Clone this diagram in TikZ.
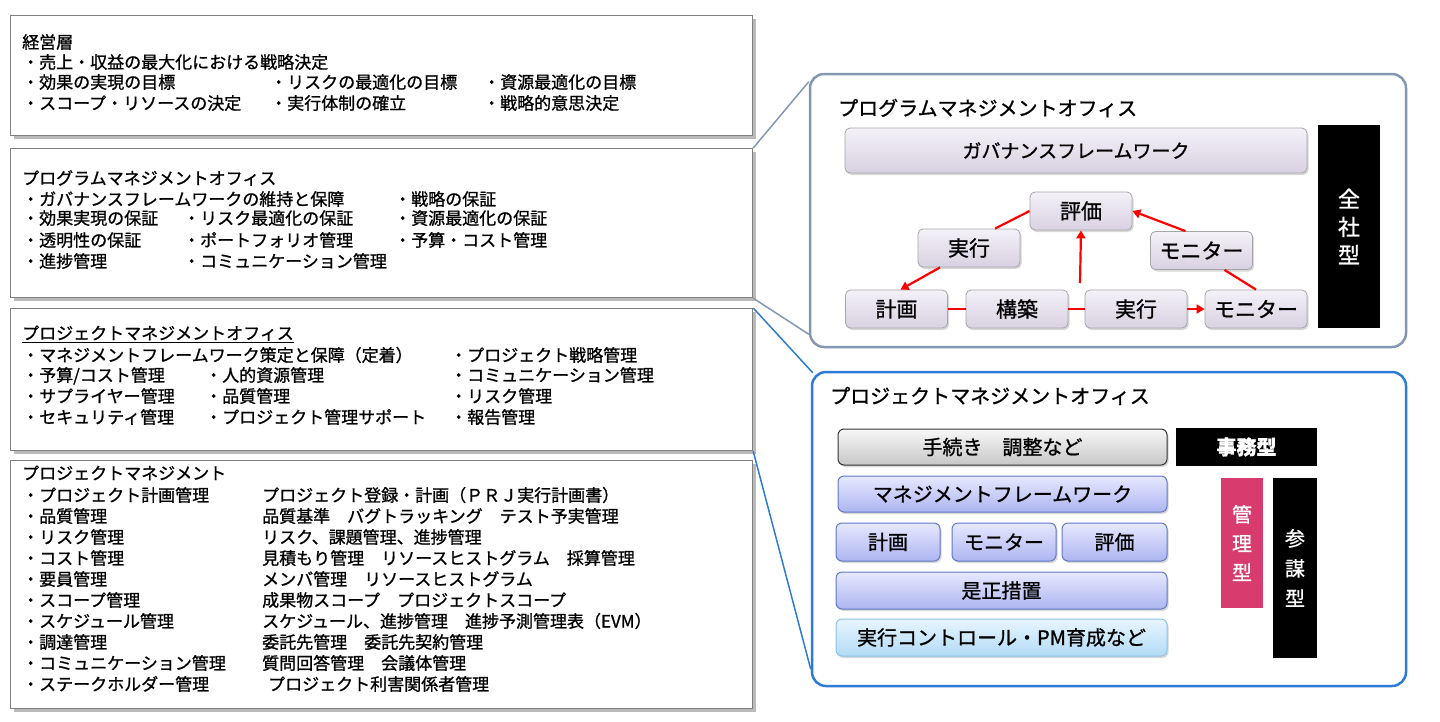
\documentclass[tikz,border=0pt]{standalone}
\usepackage{fontspec}
\setmainfont{Noto Sans CJK JP}[FakeBold=1]
\usepackage{xcolor}
\definecolor{pgmframe}{HTML}{8497B0}
\definecolor{pmoframe}{HTML}{2E7BD6}
\definecolor{cyclered}{HTML}{FF0000}
\definecolor{kanripink}{HTML}{D83C6E}
\definecolor{lavtop}{HTML}{F4F1F7}
\definecolor{lavbot}{HTML}{D8D1E2}
\definecolor{bluetop}{HTML}{E6E9FF}
\definecolor{bluebot}{HTML}{ADB5F0}
\definecolor{blueedge}{HTML}{6277C6}
\definecolor{skytop}{HTML}{E8F5FF}
\definecolor{skybot}{HTML}{B2DBF5}
\definecolor{skyedge}{HTML}{8CC3EA}
\usetikzlibrary{arrows.meta,positioning,shadows}

\newcommand{\lstfont}{\fontsize{17}{20}\selectfont}
\newcommand{\ttlfont}{\fontsize{20}{24}\selectfont}
\newcommand{\cellfont}{\fontsize{20}{24}\selectfont}

\tikzset{
  layerbox/.style={draw=black!50, fill=white, line width=1.2pt, inner sep=0pt, anchor=north west,
    drop shadow={shadow xshift=3pt, shadow yshift=-3pt, fill=black!45, opacity=0.6}},
  rowtext/.style={anchor=west, inner sep=0pt, font=\lstfont, text height=15pt, text depth=2pt},
  panel/.style={rounded corners=14pt, line width=2.5pt, fill=white, inner sep=0pt},
  cyclebox/.style={draw=black!35, line width=0.8pt, rounded corners=5pt, top color=lavtop, bottom color=lavbot,
    minimum height=38pt, minimum width=102pt, font=\fontsize{21}{25}\selectfont,
    drop shadow={shadow xshift=1.5pt, shadow yshift=-2pt, fill=black!30, opacity=0.5}},
  stepbox/.style={rounded corners=6pt, line width=1pt, minimum height=37pt, font=\cellfont,
    drop shadow={shadow xshift=1.5pt, shadow yshift=-2pt, fill=black!30, opacity=0.5}},
  stepgray/.style={stepbox, draw=black!80, top color=black!3, bottom color=black!22},
  stepblue/.style={stepbox, draw=blueedge, top color=bluetop, bottom color=bluebot},
  stepsky/.style={stepbox, draw=skyedge, top color=skytop, bottom color=skybot},
  typebar/.style={fill=black, text=white, inner sep=0pt, align=center},
  cycleline/.style={draw=cyclered, line width=2.2pt},
  cyclearrow/.style={cycleline, -{Triangle[length=8pt,width=9pt]}},
}

\begin{document}
\begin{tikzpicture}[x=1pt,y=-1pt]
  \useasboundingbox (0,0) rectangle (1440,721);

  % Left column: layers
  \node[layerbox, minimum width=742pt, minimum height=120pt] (mgmt) at (10,15) {};
  \node[layerbox, minimum width=742pt, minimum height=149pt] (pgmlist) at (10,148) {};
  \node[layerbox, minimum width=742pt, minimum height=142pt] (pmolist) at (10,308) {};
  \node[layerbox, minimum width=742pt, minimum height=248pt] (pmlist) at (10,460) {};

  % Management layer
  \node[rowtext] (mgmtttl) at (22,42) {経営層};
  \foreach \y/\t [count=\i] in {62/・売上・収益の最大化における戦略決定, 82/・効果の実現の目標, 103/・スコープ・リソースの決定}
    \node[rowtext] (mgmta\i) at (22,\y) {\t};
  \foreach \y/\t [count=\i] in {82/・リスクの最適化の目標, 103/・実行体制の確立}
    \node[rowtext] (mgmtb\i) at (270,\y) {\t};
  \foreach \y/\t [count=\i] in {82/・資源最適化の目標, 103/・戦略的意思決定}
    \node[rowtext] (mgmtc\i) at (483,\y) {\t};

  % Program management office
  \node[rowtext] (pgmttl) at (22,178) {プログラムマネジメントオフィス};
  \foreach \y/\t [count=\i] in {199/・ガバナンスフレームワークの維持と保障, 218/・効果実現の保証, 240/・透明性の保証, 261/・進捗管理}
    \node[rowtext] (pgma\i) at (22,\y) {\t};
  \foreach \y/\t [count=\i] in {218/・リスク最適化の保証, 240/・ポートフォリオ管理, 261/・コミュニケーション管理}
    \node[rowtext] (pgmb\i) at (183,\y) {\t};
  \foreach \y/\t [count=\i] in {199/・戦略の保証, 218/・資源最適化の保証, 240/・予算・コスト管理}
    \node[rowtext] (pgmc\i) at (394,\y) {\t};

  % Project management office
  \node[rowtext] (pmottl) at (22,333) {\underline{プロジェクトマネジメントオフィス}};
  \foreach \y/\t [count=\i] in {355/・マネジメントフレームワーク策定と保障（定着）, 375/{・予算/コスト管理}, 396/・サプライヤー管理, 417/・セキュリティ管理}
    \node[rowtext] (pmoa\i) at (22,\y) {\t};
  \foreach \y/\t [count=\i] in {375/・人的資源管理, 396/・品質管理, 417/・プロジェクト管理サポート}
    \node[rowtext] (pmob\i) at (205,\y) {\t};
  \foreach \y/\t [count=\i] in {355/・プロジェクト戦略管理, 375/・コミュニケーション管理, 396/・リスク管理, 417/・報告管理}
    \node[rowtext] (pmoc\i) at (450,\y) {\t};

  % Project management
  \node[rowtext] (pmttl) at (22,473) {プロジェクトマネジメント};
  \foreach \y/\a/\b [count=\i] in {
      495/・プロジェクト計画管理/プロジェクト登録・計画（ＰＲＪ実行計画書）,
      516/・品質管理/品質基準　バグトラッキング　テスト予実管理,
      537/・リスク管理/リスク、課題管理、進捗管理,
      558/・コスト管理/見積もり管理　リソースヒストグラム　採算管理,
      579/・要員管理/メンバ管理　リソースヒストグラム,
      600/・スコープ管理/成果物スコープ　プロジェクトスコープ,
      621/・スケジュール管理/スケジュール、進捗管理　進捗予測管理表（EVM）,
      642/・調達管理/委託先管理　委託先契約管理,
      663/・コミュニケーション管理/質問回答管理　会議体管理,
      684/・ステークホルダー管理/{\hspace*{6pt}プロジェクト利害関係者管理}} {
    \node[rowtext] (pma\i) at (22,\y) {\a};
    \node[rowtext] (pmb\i) at (262,\y) {\b};
  }

  % Right: program management office panel
  \node[panel, draw=pgmframe, minimum width=596pt, minimum height=273pt] (pgm) at (1108,210.5) {};
  \node[anchor=west, inner sep=0pt, font=\ttlfont] (pgmhead) at (838,108) {プログラムマネジメントオフィス};
  \node[cyclebox, minimum width=462pt, minimum height=45pt, font=\fontsize{19}{23}\selectfont] (gov) at (1076,150.5) {ガバナンスフレームワーク};
  \node[typebar, minimum width=62pt, minimum height=203pt, font=\fontsize{22}{28}\selectfont] (zensha) at (1349,226.5) {全\\社\\型};

  \node[cyclebox] (eval) at (1081,211) {評価};
  \node[cyclebox] (exec1) at (969,248) {実行};
  \node[cyclebox] (mon1) at (1201.5,250.5) {モニター};
  \node[cyclebox] (plan) at (896.5,309) {計画};
  \node[cyclebox] (build) at (1017,309) {構築};
  \node[cyclebox] (exec2) at (1136,309) {実行};
  \node[cyclebox] (mon2) at (1256,309) {モニター};
  \coordinate (rise) at (1080,283);

  \draw[cycleline] (eval.west) -- ([xshift=26pt]exec1.north);
  \draw[cyclearrow] ([xshift=-29pt]exec1.south) -- ([xshift=4pt]plan.north);
  \draw[cycleline] (plan) -- (build);
  \draw[cycleline] (build) -- (exec2);
  \draw[cyclearrow] (exec2) -- (mon2);
  \draw[cycleline] (mon2.north) -- ([xshift=23pt]mon1.south);
  \draw[cyclearrow] ([xshift=-16pt]mon1.north) -- (eval.east);
  \draw[cyclearrow] (rise) -- (eval.south);

  % Right: project management office panel
  \node[panel, draw=pmoframe, minimum width=594pt, minimum height=314pt] (pmo) at (1109,529) {};
  \node[anchor=west, inner sep=0pt, font=\ttlfont] (pmohead) at (830,396) {プロジェクトマネジメントオフィス};
  \node[stepgray, minimum width=329pt, minimum height=36pt] (proc) at (1002.5,447) {手続き　調整など};
  \node[stepblue, minimum width=329pt, minimum height=36pt] (mfw) at (1002.5,494) {マネジメントフレームワーク};
  \node[stepblue, minimum width=104pt, minimum height=38pt] (plan2) at (888,542) {計画};
  \node[stepblue, minimum width=104pt, minimum height=38pt] (mon3) at (1004,542) {モニター};
  \node[stepblue, minimum width=105pt, minimum height=38pt] (eval2) at (1114.5,542) {評価};
  \node[stepblue, minimum width=331pt] (fix) at (1001.5,590.5) {是正措置};
  \node[stepsky, minimum width=331pt] (ctrl) at (1001.5,637.5) {実行コントロール・PM育成など};

  \node[typebar, minimum width=141pt, minimum height=38pt, font=\fontsize{20}{24}\selectfont\bfseries] (jimu) at (1246.5,447) {事務型};
  \node[typebar, fill=kanripink, minimum width=42pt, minimum height=130pt, font=\fontsize{20}{29}\selectfont] (kanri) at (1242,543) {管\\理\\型};
  \node[typebar, minimum width=44pt, minimum height=180pt, font=\fontsize{20}{30}\selectfont] (sanbo) at (1295,568) {参\\謀\\型};

  % Callout lines
  \draw[pgmframe, line width=1.5pt] (pgmlist.north east) -- ([yshift=-9pt]pgm.north west);
  \draw[pgmframe, line width=1.5pt] (pgmlist.south east) -- ([yshift=14pt]pgm.south west);
  \draw[pmoframe, line width=1.5pt] (pmolist.north east) -- ([xshift=2pt,yshift=-2pt]pmo.north west);
  \draw[pmoframe, line width=1.5pt] (pmolist.south east) -- ([yshift=18pt]pmo.south west);
\end{tikzpicture}
\end{document}
